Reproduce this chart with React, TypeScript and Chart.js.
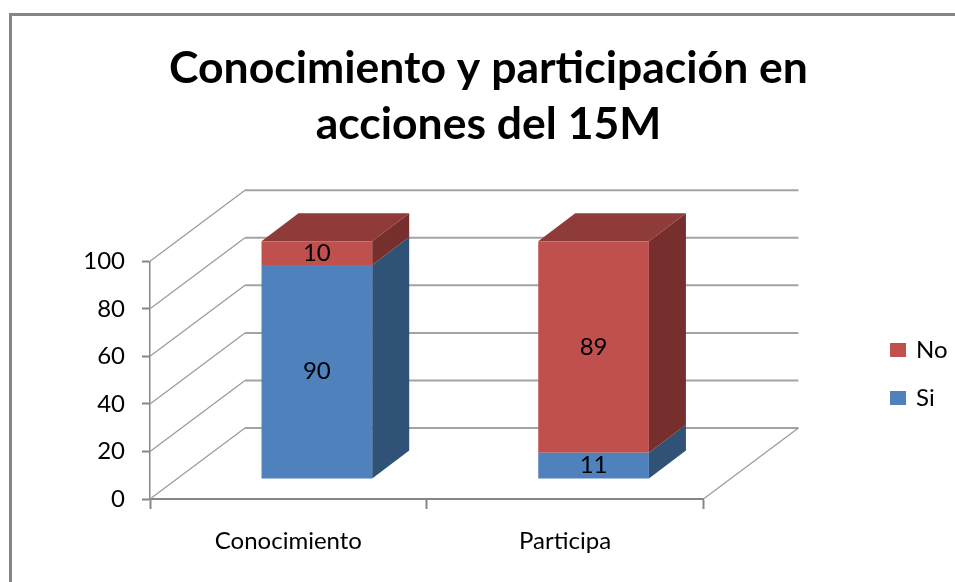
import React, { useEffect, useRef } from "react";
import { Chart, registerables } from "chart.js";

Chart.register(...registerables);

const categories = ["Conocimiento", "Participa"];
const siValues = [90, 11];
const noValues = [10, 89];
const titleLines = ["Conocimiento y participación en", "acciones del 15M"];
const blueFaces = { front: "#4f81bd", side: "#305277", top: "#3a6391" };
const redFaces = { front: "#c0504d", side: "#772f2d", top: "#8e3b39" };
const faces = [blueFaces, redFaces];
const BAR_DX = 28.5;
const BAR_DY = -20;
const SIDE_DX = 37;
const SIDE_DY = -28;
const WALL_DX = 95;
const WALL_DY = -71;
const FONT = "Lato";
const TEXT_SIZE = 24;

function poly(ctx: CanvasRenderingContext2D, pts: number[][], fill: string) {
  ctx.beginPath();
  pts.forEach((p, i) => (i ? ctx.lineTo(p[0], p[1]) : ctx.moveTo(p[0], p[1])));
  ctx.closePath();
  ctx.fillStyle = fill;
  ctx.fill();
}

const threeD = {
  id: "threeD",
  beforeDraw(chart: any) {
    const { ctx, width, height } = chart;
    ctx.save();
    ctx.fillStyle = "#fff";
    ctx.fillRect(0, 0, width, height);
    ctx.fillStyle = "#868686";
    ctx.fillRect(9, 13, width - 9, 3);
    ctx.fillRect(9, 13, 3, height - 13);
    ctx.restore();
  },
  afterLayout(chart: any) {
    const lg = chart.legend;
    lg.left = 892 - 24;
    lg.top = 83;
    lg.bottom = 582 + 83;
  },
  beforeDatasetsDraw(chart: any) {
    const { ctx, scales } = chart;
    const y = scales.y;
    const x = scales.x;
    ctx.save();
    // walls
    y.ticks.forEach((t: any) => {
      const py = y.getPixelForValue(t.value);
      ctx.strokeStyle = "#9a9a9a";
      ctx.lineWidth = 1.2;
      ctx.beginPath();
      ctx.moveTo(x.left, py);
      ctx.lineTo(x.left + WALL_DX, py + WALL_DY);
      ctx.stroke();
      ctx.strokeStyle = "#a3a3a3";
      ctx.lineWidth = 2;
      ctx.beginPath();
      ctx.moveTo(x.left + WALL_DX, py + WALL_DY);
      ctx.lineTo(x.right + WALL_DX, py + WALL_DY);
      ctx.stroke();
    });
    ctx.strokeStyle = "#9a9a9a";
    ctx.lineWidth = 1.2;
    ctx.beginPath();
    ctx.moveTo(x.right, y.bottom);
    ctx.lineTo(x.right + WALL_DX, y.bottom + WALL_DY);
    ctx.stroke();
    // side and top faces
    chart.data.datasets.forEach((_: any, di: number) => {
      chart.getDatasetMeta(di).data.forEach((b: any) => {
        const r = b.x + b.width / 2 + BAR_DX;
        const l = b.x - b.width / 2 + BAR_DX;
        const t = b.y + BAR_DY;
        const bt = b.base + BAR_DY;
        poly(ctx, [[r, bt], [r + SIDE_DX, bt + SIDE_DY], [r + SIDE_DX, t + SIDE_DY], [r, t]], faces[di].side);
        if (di === chart.data.datasets.length - 1) {
          poly(ctx, [[l, t], [l + SIDE_DX, t + SIDE_DY], [r + SIDE_DX, t + SIDE_DY], [r, t]], faces[di].top);
        }
      });
    });
    ctx.restore();
    ctx.save();
    ctx.translate(BAR_DX, BAR_DY);
  },
  afterDatasetsDraw(chart: any) {
    const { ctx } = chart;
    ctx.restore();
    ctx.save();
    ctx.font = `${TEXT_SIZE}px ${FONT}`;
    ctx.fillStyle = "#000";
    ctx.textAlign = "center";
    ctx.textBaseline = "middle";
    chart.data.datasets.forEach((ds: any, di: number) => {
      chart.getDatasetMeta(di).data.forEach((b: any, i: number) => {
        ctx.fillText(String(ds.data[i]), b.x + BAR_DX, (b.y + b.base) / 2 + BAR_DY);
      });
    });
    ctx.restore();
  },
};

export default function App() {
  const ref = useRef<HTMLCanvasElement>(null);
  useEffect(() => {
    const chart = new Chart(ref.current as HTMLCanvasElement, {
      type: "bar",
      data: {
        labels: categories,
        datasets: [
          { label: "Si", data: siValues, backgroundColor: blueFaces.front, clip: false },
          { label: "No", data: noValues, backgroundColor: redFaces.front, clip: false },
        ],
      },
      plugins: [threeD],
      options: {
        responsive: false,
        animation: false,
        layout: { padding: { left: 22, top: 31, right: 0, bottom: 0 } },
        datasets: { bar: { barPercentage: 1, categoryPercentage: 0.4 } },
        scales: {
          x: {
            stacked: true,
            grid: { drawOnChartArea: false, drawTicks: true, tickLength: 10, tickColor: "#868686", tickWidth: 2 },
            border: { color: "#868686", width: 2 },
            ticks: { color: "#000", font: { family: FONT, size: TEXT_SIZE }, padding: 18, maxRotation: 0 },
            afterFit: (s: any) => { s.height = 83; },
          },
          y: {
            stacked: true,
            min: 0,
            max: 100,
            grid: { drawOnChartArea: false, drawTicks: true, tickLength: 8, tickColor: "#868686", tickWidth: 2 },
            border: { color: "#868686", width: 1.5 },
            ticks: { color: "#000", font: { family: FONT, size: TEXT_SIZE }, stepSize: 20, padding: 17 },
            afterFit: (s: any) => { s.width = 128; },
          },
          spacerRight: {
            type: "linear",
            position: "right",
            display: true,
            ticks: { display: false },
            grid: { display: false },
            border: { display: false },
            afterFit: (s: any) => { s.width = 162; },
          },
          spacerTop: {
            type: "category",
            position: "top",
            display: true,
            ticks: { display: false },
            grid: { display: false },
            border: { display: false },
            afterFit: (s: any) => { s.height = 109; },
          },
        } as any,
        plugins: {
          title: {
            display: true,
            text: titleLines,
            color: "#000",
            font: { family: FONT, size: 44.5, weight: "bold", lineHeight: 1.25 },
            padding: { top: 10, bottom: 0 },
          },
          legend: {
            position: "right",
            reverse: true,
            labels: {
              color: "#000",
              font: { family: FONT, size: TEXT_SIZE },
              boxWidth: 12,
              boxHeight: 10,
              padding: 24,
              generateLabels: (c: any) =>
                Chart.defaults.plugins.legend.labels.generateLabels(c).map((it: any) => ({
                  ...it,
                  strokeStyle: it.fillStyle,
                  lineWidth: 4,
                })),
            },
          },
          tooltip: { enabled: false },
        },
      } as any,
    });
    return () => chart.destroy();
  }, []);
  return (
    <canvas
      ref={ref}
      width={955}
      height={582}
      style={{ position: "absolute", left: 0, top: 0, display: "block" }}
    />
  );
}
